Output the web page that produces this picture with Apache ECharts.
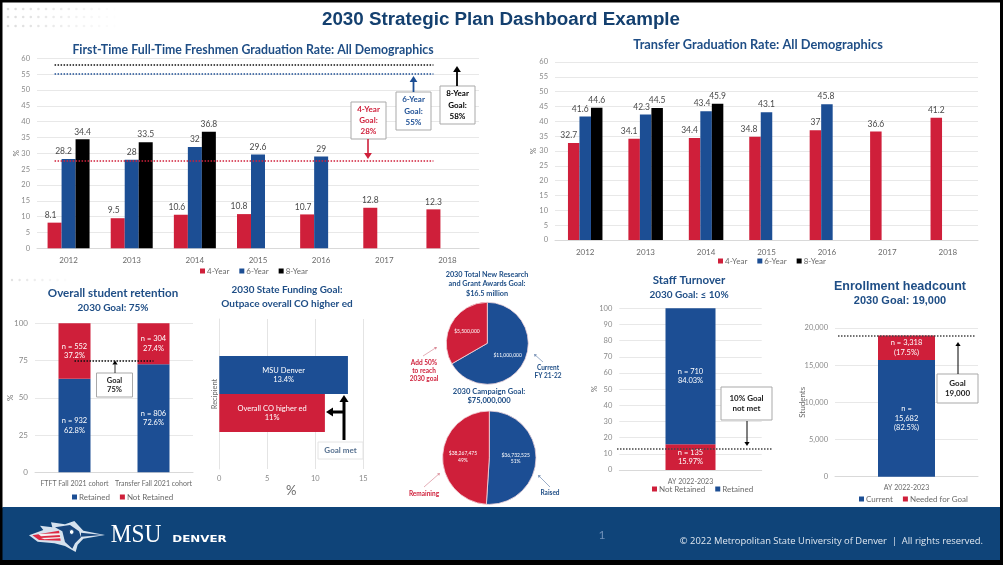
<!DOCTYPE html>
<html>
<head>
<meta charset="utf-8">
<title>2030 Strategic Plan Dashboard Example</title>
<script src="https://cdn.jsdelivr.net/npm/echarts@6/dist/echarts.min.js"></script>
<style>
  html, body { margin: 0; padding: 0; background: #fff; }
  #main { width: 1003px; height: 565px; }
</style>
</head>
<body>
<div id="main"></div>
<script>
var RED = '#cf1f3a', BLUE = '#1c4e94', BLACK = '#000', NAVY = '#1f4e86', GRAY = '#6a6a6a';
var CALIBRI = 'Lato', ARIAL = '"Liberation Sans"';

// graduation rate charts
var gradYears = ['2012', '2013', '2014', '2015', '2016', '2017', '2018'];
var freshmen4Year = [8.1, 9.5, 10.6, 10.8, 10.7, 12.8, 12.3];
var freshmen6Year = [28.2, 28, 32, 29.6, 29, null, null];
var freshmen8Year = [34.4, 33.5, 36.8, null, null, null, null];
var transfer4Year = [32.7, 34.1, 34.4, 34.8, 37, 36.6, 41.2];
var transfer6Year = [41.6, 42.3, 43.4, 43.1, 45.8, null, null];
var transfer8Year = [44.6, 44.5, 45.9, null, null, null, null];
var freshmenGoal4 = 27.6, freshmenGoal6 = 55, freshmenGoal8 = 58;

// labels sit a few px left of their bars in the original
var freshmen4Shift = [-4, -4, -4, -5, -4, 0, 0];
var freshmen6Shift = [-5, 0, 0, 0, 0, 0, 0];
var transfer4Shift = [-5, -5, -5, -6, 0, 0, 0];
var transfer6Shift = [-5, -4, -4, 0, -1, 0, 0];

// retention
var cohorts = ['FTFT Fall 2021 cohort', 'Transfer Fall 2021 cohort'];
var retainedPct = [62.8, 72.6];
var notRetainedPct = [37.2, 27.4];
var retainedText = ['n = 932\n62.8%', 'n = 806\n72.6%'];
var notRetainedText = ['n = 552\n37.2%', 'n = 304\n27.4%'];
var retentionGoal = 75;

// state funding
var fundingCategory = ['Recipient'];
var fundingMsu = [13.4];
var fundingOverall = [11];
var fundingMsuText = 'MSU Denver\n13.4%';
var fundingOverallText = 'Overall CO higher ed\n11%';

// pies
var awardNames = ['Current FY 21-22', 'Add 50% to reach 2030 goal'];
var awardValues = [11000000, 5500000];
var awardText = ['$11,000,000', '$5,500,000'];
var campaignNames = ['Raised', 'Remaining'];
var campaignShare = [51, 49];
var campaignText = ['$36,732,525\n51%', '$38,267,475\n49%'];

// staff turnover
var staffYear = ['AY 2022-2023'];
var staffNotRetained = [15.97];
var staffRetained = [84.03];
var staffGoalDrawn = 13;

// enrollment
var enrollYear = ['AY 2022-2023'];
var enrollCurrent = [15682];
var enrollNeeded = [3318];
var enrollGoal = 19000;

function shifted(values, shift) {
    return values.map(function(v, i) {
        return { value: v, label: { offset: [shift ? shift[i] : 0, 0] } };
    });
}

function withText(values, texts) {
    return values.map(function(v, i) {
        return { value: v, label: { formatter: texts[i] } };
    });
}

function goalLine(value, color, fromX, toX) {
    var a = { yAxis: value, lineStyle: { color: color, type: 'dotted', width: 1.5 } }, b = { yAxis: value };
    if (fromX) { a.x = fromX; b.x = toX; }
    else { a.xAxis = 'min'; b.xAxis = 'max'; }
    return [a, b];
}

function marks(lines) {
    return { silent: true, symbol: 'none', animation: false, label: { show: false }, data: lines };
}

function gradSeries(name, color, data, xi, width, extra) {
    var s = {
        name: name, type: 'bar', xAxisIndex: xi, yAxisIndex: xi, data: data, barWidth: width, barGap: 0,
        itemStyle: { color: color },
        label: { show: true, position: 'top', distance: 3, fontFamily: CALIBRI, fontSize: 8.5, color: '#4a4a4a' }
    };
    if (extra) s.markLine = extra;
    return s;
}

function stacked(name, color, data, xi, width, extra) {
    var s = {
        name: name, type: 'bar', stack: 's' + xi, xAxisIndex: xi, yAxisIndex: xi, data: data, barWidth: width,
        itemStyle: { color: color },
        label: { show: true, position: 'inside', fontFamily: CALIBRI, fontSize: 7.5, lineHeight: 9.5, color: '#fff' }
    };
    if (extra) s.markLine = extra;
    return s;
}

function xCat(gridIndex, data, size) {
    return {
        type: 'category', gridIndex: gridIndex, data: data,
        axisTick: { show: false },
        axisLine: { lineStyle: { color: '#d9d9d9' } },
        axisLabel: { fontFamily: CALIBRI, fontSize: size || 8, color: GRAY, margin: 8, interval: 0 }
    };
}

function yVal(gridIndex, max, interval, name, gap, size) {
    return {
        type: 'value', gridIndex: gridIndex, min: 0, max: max, interval: interval,
        name: name, nameLocation: 'middle', nameRotate: 90, nameGap: gap, nameMoveOverlap: false,
        nameTextStyle: { fontFamily: CALIBRI, fontSize: 8, color: GRAY },
        axisLine: { show: false }, axisTick: { show: false },
        axisLabel: { fontFamily: CALIBRI, fontSize: size || 7.5, color: '#8a8a8a', margin: 7, formatter: '{value}' },
        splitLine: { lineStyle: { color: '#e8e8e8' } }
    };
}

function legendAt(left, top, names) {
    return {
        left: left, top: top, data: names, icon: 'rect', itemWidth: 5, itemHeight: 5, itemGap: 10,
        padding: 0, selectedMode: false,
        textStyle: { fontFamily: CALIBRI, fontSize: 8, color: GRAY, padding: [0, 0, 0, -3] }
    };
}

var gfx = [];

function label(text, x, y, size, color, opt) {
    opt = opt || {};
    gfx.push({
        type: 'text', x: x, y: y, z: 20, scaleX: opt.scaleX || 1,
        style: {
            text: text, fill: color,
            font: (opt.weight || 'bold') + ' ' + size + 'px ' + (opt.family || CALIBRI),
            align: opt.align || 'center', verticalAlign: 'middle', lineHeight: opt.lh || size * 1.2
        }
    });
}

function box(x1, y1, x2, y2, text, color, size, lh, border) {
    gfx.push({
        type: 'rect', z: 15, shape: { x: x1, y: y1, width: x2 - x1, height: y2 - y1 },
        style: { fill: '#fff', stroke: border || '#a9a9a9', lineWidth: 1 }
    });
    label(text, (x1 + x2) / 2, (y1 + y2) / 2, size, color, { lh: lh });
}

function arrow(x1, y1, x2, y2, color, width, head) {
    var dx = x2 - x1, dy = y2 - y1, len = Math.sqrt(dx * dx + dy * dy), ux = dx / len, uy = dy / len;
    var bx = x2 - ux * head, by = y2 - uy * head;
    gfx.push({
        type: 'line', z: 16, shape: { x1: x1, y1: y1, x2: bx, y2: by },
        style: { stroke: color, lineWidth: width }
    });
    gfx.push({
        type: 'polygon', z: 16,
        shape: { points: [[x2, y2], [bx - uy * head * 0.65, by + ux * head * 0.65], [bx + uy * head * 0.65, by - ux * head * 0.65]] },
        style: { fill: color }
    });
}

// slide frame and faint corner dots
gfx.push({ type: 'rect', z: 0, shape: { x: 0, y: 0, width: 1003, height: 565 }, style: { fill: '#000' } });
gfx.push({ type: 'rect', z: 0, shape: { x: 2.5, y: 2.5, width: 997.5, height: 505 }, style: { fill: '#fff' } });
gfx.push({ type: 'rect', z: 0, shape: { x: 2.5, y: 507, width: 997.5, height: 53 }, style: { fill: '#0f4479' } });
[9, 17, 26].forEach(function(dotY) {
    for (var col = 0; col < 15; col++) {
        gfx.push({
            type: 'circle', z: 1, shape: { cx: 8 + col * 7.6, cy: dotY, r: 1.3 },
            style: { fill: '#dcdcdc', opacity: 1 - col / 15 }
        });
    }
});
for (var col = 0; col < 8; col++) {
    gfx.push({
        type: 'circle', z: 1, shape: { cx: 12 + col * 7.6, cy: 280, r: 1.2 },
        style: { fill: '#e2e2e2', opacity: 1 - col / 8 }
    });
}

// titles
label('2030 Strategic Plan Dashboard Example', 501, 20, 18.8, '#14406f', { family: ARIAL });
label('First-Time Full-Time Freshmen Graduation Rate: All Demographics', 253, 50, 12.3, NAVY);
label('Transfer Graduation Rate: All Demographics', 758, 45, 12.8, NAVY);
label('Overall student retention', 113, 293, 11.6, NAVY);
label('2030 Goal: 75%', 113, 308, 10, NAVY);
label('2030 State Funding Goal:', 287, 290, 9.9, NAVY);
label('Outpace overall CO higher ed', 287, 304, 10, NAVY);
label('2030 Total New Research\nand Grant Awards Goal:\n$16.5 million', 487, 284, 7.3, NAVY, { lh: 9.5 });
label('2030 Campaign Goal:\n$75,000,000', 489, 396.5, 7.6, NAVY, { lh: 9 });
label('Staff Turnover', 689, 280, 11.5, NAVY);
label('2030 Goal: \u2264 10%', 689, 295, 10, NAVY);
label('Enrollment headcount', 900, 287, 12.5, NAVY, { family: ARIAL });
label('2030 Goal: 19,000', 900, 301, 11, NAVY, { family: ARIAL });

// goal callouts on the freshmen chart
box(351, 102, 386, 139, '4-Year\nGoal:\n28%', RED, 8, 11.4);
arrow(368, 139, 368, 159, RED, 1.6, 6);
box(396, 92, 431, 130, '6-Year\nGoal:\n55%', BLUE, 8, 11.4);
arrow(413.5, 92, 413.5, 76, BLUE, 1.8, 6);
box(440, 86, 475, 124, '8-Year\nGoal:\n58%', BLACK, 8, 11.4);
arrow(457, 86, 457, 66, BLACK, 1.8, 6);

// retention callout
box(96.5, 373, 132.5, 397, 'Goal\n75%', '#222', 7.5, 9.5);
arrow(115, 373, 115, 360.5, BLACK, 0.8, 4);

// funding callout
arrow(344, 440, 344, 395, BLACK, 3, 7);
arrow(344, 412, 326, 412, BLACK, 3, 7);
box(318, 442, 363, 459, 'Goal met', '#56708f', 8, 10, '#e4e4e4');

// pie side notes
label('Add 50%\nto reach\n2030 goal', 424, 371, 6.5, RED, { lh: 8 });
arrow(423, 356, 437, 347, '#d98a96', 0.7, 2.5);
label('Current\nFY 21-22', 548, 372, 6.5, NAVY, { lh: 8 });
arrow(543, 362, 534, 354, '#6f8ab0', 0.7, 2.5);
label('Remaining', 424, 494, 6.5, RED);
arrow(424, 487, 440, 473, '#d98a96', 0.7, 2.5);
label('Raised', 550, 493, 6.5, NAVY);
arrow(550, 487, 538, 475, '#6f8ab0', 0.7, 2.5);

// staff and enrollment callouts
box(721, 387, 772, 420, '10% Goal\nnot met', '#222', 8, 10);
arrow(747, 421, 747, 446, BLACK, 1, 4);
box(937, 374, 978, 403, 'Goal\n19,000', '#222', 8, 10);
arrow(958, 374, 958, 342, BLACK, 1, 4);

// footer: logo is a rough outline of the bird
function logoPts(list) {
    return list.map(function(p) { return [15 + p[0] / 3, 510 + p[1] / 3]; });
}
function logoPoly(list, color) {
    gfx.push({ type: 'polygon', z: 5, shape: { points: logoPts(list) }, style: { fill: color } });
}
logoPoly([[42, 76], [85, 60], [75, 47], [112, 52], [108, 37], [150, 43], [178, 33], [205, 62], [270, 75], [205, 86], [188, 104], [182, 126], [150, 108], [118, 100], [68, 95]], '#d6e2ee');
logoPoly([[120, 52], [165, 45], [192, 64], [198, 82], [180, 100], [172, 116], [150, 96], [142, 64]], '#17457c');
logoPoly([[52, 76], [132, 62], [137, 92], [72, 90]], '#dd2a44');
logoPoly([[70, 72], [135, 70], [136, 75], [78, 79]], '#f3f3f3');
logoPoly([[78, 84], [137, 81], [137, 85], [88, 88]], '#f3f3f3');
logoPoly([[198, 68], [262, 75], [198, 80]], '#17457c');
gfx.push({ type: 'circle', z: 6, shape: { cx: 15 + 170 / 3, cy: 510 + 66 / 3, r: 2.4 }, style: { fill: '#fff', stroke: '#17457c', lineWidth: 1 } });

label('MSU', 136, 535.5, 26, '#fff', { family: '"Liberation Serif"', weight: 'normal', scaleX: 0.9 });
label('DENVER', 199.5, 540, 8.5, '#fff', { family: '"DejaVu Sans"', scaleX: 1.4 });
label('1', 602, 535, 12, '#6d8fb8', { family: CALIBRI, weight: 'normal' });
label('\u00a9 2022 Metropolitan State University of Denver  |  All rights reserved.', 983, 541, 9.4, '#dfe7f0', { family: '"Open Sans"', weight: 'normal', align: 'right' });

var option = {
    animation: false,
    backgroundColor: '#fff',
    grid: [
        { left: 37, top: 58.3, width: 442, height: 190 },
        { left: 555, top: 62, width: 423, height: 178 },
        { left: 35, top: 323.3, width: 158, height: 149 },
        { left: 219.3, top: 319, width: 144, height: 150 },
        { left: 619.3, top: 308.3, width: 142.4, height: 161.7 },
        { left: 835, top: 328, width: 143, height: 148.7 }
    ],
    xAxis: [
        xCat(0, gradYears),
        xCat(1, gradYears),
        xCat(2, cohorts, 7),
        {
            type: 'value', gridIndex: 3, min: 0, max: 15, interval: 5,
            name: '%', nameLocation: 'middle', nameGap: 15,
            nameTextStyle: { fontFamily: CALIBRI, fontSize: 13, color: GRAY },
            axisLine: { show: false }, axisTick: { show: false },
            axisLabel: { fontFamily: CALIBRI, fontSize: 7.5, color: '#8a8a8a', margin: 6 },
            splitLine: { lineStyle: { color: '#e4e4e4' } }
        },
        xCat(4, staffYear, 7),
        xCat(5, enrollYear, 7)
    ],
    yAxis: [
        yVal(0, 60, 5, '%', 17),
        yVal(1, 60, 5, '%', 18),
        yVal(2, 100, 25, '%', 21, 8),
        {
            type: 'category', gridIndex: 3, data: fundingCategory,
            name: 'Recipient', nameLocation: 'middle', nameRotate: 90, nameGap: 1,
            nameTextStyle: { fontFamily: CALIBRI, fontSize: 7.5, color: GRAY },
            axisLine: { lineStyle: { color: '#e4e4e4' } }, axisTick: { show: false }, axisLabel: { show: false }
        },
        yVal(4, 100, 10, '%', 21),
        yVal(5, 20000, 5000, 'Students', 29)
    ],
    legend: [
        legendAt(200, 267, ['4-Year', '6-Year', '8-Year']),
        legendAt(718, 257, ['4-Year', '6-Year', '8-Year']),
        legendAt(72, 493, ['Retained', 'Not Retained']),
        legendAt(652, 485, ['Not Retained', 'Retained']),
        legendAt(859, 495, ['Current', 'Needed for Goal'])
    ],
    graphic: { elements: gfx },
    series: [
        gradSeries('4-Year', RED, shifted(freshmen4Year, freshmen4Shift), 0, 14, marks([
            goalLine(freshmenGoal8, '#111', null, null),
            goalLine(freshmenGoal6, BLUE, null, null),
            goalLine(freshmenGoal4, RED, null, null)
        ])),
        gradSeries('6-Year', BLUE, shifted(freshmen6Year, freshmen6Shift), 0, 14),
        gradSeries('8-Year', BLACK, shifted(freshmen8Year), 0, 14),
        gradSeries('4-Year', RED, shifted(transfer4Year, transfer4Shift), 1, 11.5),
        gradSeries('6-Year', BLUE, shifted(transfer6Year, transfer6Shift), 1, 11.5),
        gradSeries('8-Year', BLACK, shifted(transfer8Year), 1, 11.5),

        stacked('Retained', BLUE, withText(retainedPct, retainedText), 2, 32),
        stacked('Not Retained', RED, withText(notRetainedPct, notRetainedText), 2, 32, marks([
            goalLine(retentionGoal, '#111', null, null)
        ])),

        {
            name: 'MSU Denver', type: 'bar', xAxisIndex: 3, yAxisIndex: 3, data: fundingMsu,
            barWidth: 38, barGap: 0, itemStyle: { color: BLUE },
            label: { show: true, position: 'inside', formatter: fundingMsuText, fontFamily: CALIBRI, fontSize: 7.5, lineHeight: 9.5, color: '#fff' }
        },
        {
            name: 'Overall CO higher ed', type: 'bar', xAxisIndex: 3, yAxisIndex: 3, data: fundingOverall,
            barWidth: 38, barGap: 0, itemStyle: { color: RED },
            label: { show: true, position: 'inside', formatter: fundingOverallText, fontFamily: CALIBRI, fontSize: 7.5, lineHeight: 9.5, color: '#fff' }
        },

        {
            name: 'Research and grant awards', type: 'pie', center: [487.3, 343.3], radius: 41, startAngle: 90,
            data: awardValues.map(function(v, i) {
                return { name: awardNames[i], value: v, itemStyle: { color: i ? RED : BLUE }, label: { formatter: awardText[i] } };
            }),
            itemStyle: { borderColor: '#f3d8dd', borderWidth: 0.8 },
            label: { show: true, position: 'inside', fontFamily: CALIBRI, fontSize: 5, color: '#fff' },
            labelLine: { show: false }, silent: true
        },
        {
            name: 'Campaign', type: 'pie', center: [489.3, 457.7], radius: 46.7, startAngle: 90,
            data: campaignShare.map(function(v, i) {
                return { name: campaignNames[i], value: v, itemStyle: { color: i ? RED : BLUE }, label: { formatter: campaignText[i] } };
            }),
            itemStyle: { borderColor: '#f3d8dd', borderWidth: 0.8 },
            label: { show: true, position: 'inside', fontFamily: CALIBRI, fontSize: 5, lineHeight: 6.5, color: '#fff' },
            labelLine: { show: false }, silent: true
        },

        stacked('Not Retained', RED, [{ value: staffNotRetained[0], label: { formatter: 'n = 135\n15.97%' } }], 4, 50, marks([
            goalLine(staffGoalDrawn, '#444', 617, 772)
        ])),
        stacked('Retained', BLUE, [{ value: staffRetained[0], label: { formatter: 'n = 710\n84.03%' } }], 4, 50),

        stacked('Current', BLUE, [{ value: enrollCurrent[0], label: { formatter: 'n =\n15,682\n(82.5%)' } }], 5, 57, marks([
            goalLine(enrollGoal, '#444', 838, 976)
        ])),
        stacked('Needed for Goal', RED, [{ value: enrollNeeded[0], label: { formatter: 'n = 3,318\n(17.5%)' } }], 5, 57)
    ]
};

var chart = echarts.init(document.getElementById('main'), null, { renderer: 'canvas' });
chart.setOption(option);
</script>
</body>
</html>
